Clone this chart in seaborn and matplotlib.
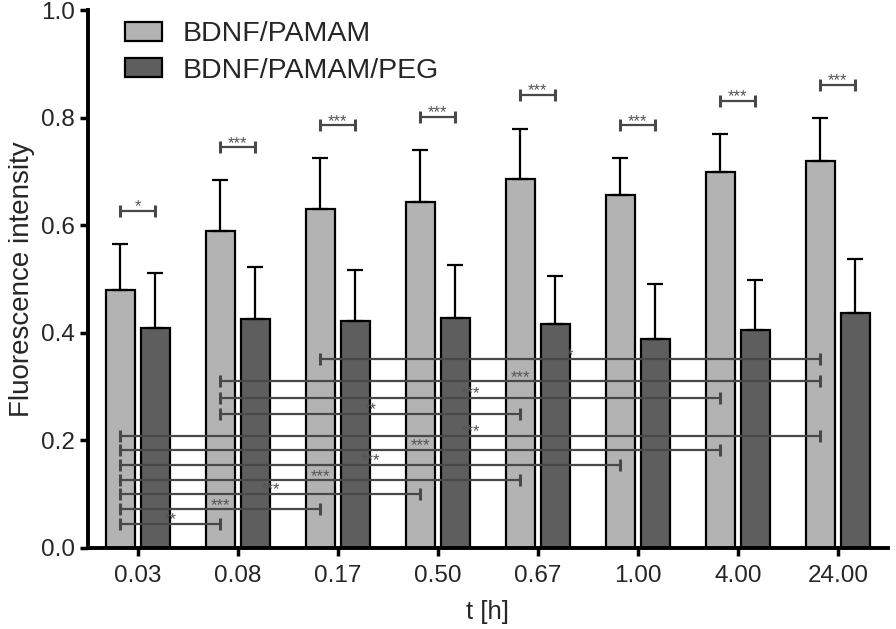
import numpy as np
import pandas as pd
import matplotlib
matplotlib.use("Agg")
import matplotlib.pyplot as plt
import seaborn as sns

# --------------------------------
# DATA
# --------------------------------
times = ["0.03", "0.08", "0.17", "0.50", "0.67", "1.00", "4.00", "24.00"]
groups = ["BDNF/PAMAM", "BDNF/PAMAM/PEG"]

pamam_mean = [0.480, 0.589, 0.630, 0.643, 0.686, 0.656, 0.699, 0.719]
pamam_sd = [0.085, 0.095, 0.095, 0.097, 0.093, 0.069, 0.071, 0.080]
peg_mean = [0.409, 0.426, 0.422, 0.428, 0.416, 0.388, 0.405, 0.437]
peg_sd = [0.102, 0.096, 0.095, 0.098, 0.090, 0.103, 0.093, 0.100]

# PAMAM vs PAMAM/PEG at each time point
pair_y = [0.627, 0.745, 0.786, 0.801, 0.842, 0.786, 0.831, 0.861]
pair_stars = ["*", "***", "***", "***", "***", "***", "***", "***"]

# BDNF/PAMAM between time points
cmp_start = [2, 1, 1, 1, 0, 0, 0, 0, 0, 0, 0]
cmp_end = [7, 7, 6, 4, 7, 6, 5, 4, 3, 2, 1]
cmp_y = [0.351, 0.310, 0.279, 0.249, 0.208, 0.182, 0.154, 0.126, 0.100, 0.072, 0.045]
cmp_stars = ["*", "***", "***", "**", "***", "***", "***", "***", "***", "***", "**"]

data = pd.DataFrame({
    "t": times * 2,
    "group": [groups[0]] * len(times) + [groups[1]] * len(times),
    "value": pamam_mean + peg_mean,
})

# --------------------------------
# PLOT
# --------------------------------
sns.set_style("ticks")
plt.rcParams["font.family"] = ["Liberation Sans", "DejaVu Sans"]

fig = plt.figure(figsize=(8.96, 6.29), dpi=100)
ax = fig.add_axes([0.098, 0.129, 0.893, 0.855])

sns.barplot(
    data=data, x="t", y="value", hue="group",
    order=times, hue_order=groups,
    palette=["#b3b3b3", "#5e5e5e"],
    width=0.7, gap=0.17,
    edgecolor="black", linewidth=1.6,
    errorbar=None, ax=ax,
)

light_x = [p.get_x() + p.get_width() / 2 for p in ax.containers[0]]
dark_x = [p.get_x() + p.get_width() / 2 for p in ax.containers[1]]

ax.errorbar(light_x, pamam_mean, yerr=[np.zeros(len(times)), pamam_sd],
            fmt="none", ecolor="black", elinewidth=1.6, capsize=5.5,
            capthick=1.6, zorder=1)
ax.errorbar(dark_x, peg_mean, yerr=[np.zeros(len(times)), peg_sd],
            fmt="none", ecolor="black", elinewidth=1.6, capsize=5.5,
            capthick=1.6, zorder=1)

bracket_color = "#484848"


def bracket(x1, x2, y, label):
    ax.plot([x1, x2], [y, y], color=bracket_color, lw=1.6, zorder=5)
    ax.plot([x1, x2], [y, y], ls="none", marker="|", ms=8.5, mew=2.2,
            color=bracket_color, zorder=5)
    ax.text((x1 + x2) / 2, y - 0.001, label, ha="center", va="baseline",
            fontsize=12, color="#555555", zorder=6)


for i in range(len(times)):
    bracket(light_x[i], dark_x[i], pair_y[i], pair_stars[i])

for s, e, y, lab in zip(cmp_start, cmp_end, cmp_y, cmp_stars):
    bracket(light_x[s], light_x[e], y, lab)

ax.set_xlim(-0.5, 7.5)
ax.set_ylim(0, 1.0)
ax.set_yticks([0.0, 0.2, 0.4, 0.6, 0.8, 1.0])
ax.set_yticklabels(["0.0", "0.2", "0.4", "0.6", "0.8", "1.0"])

ax.set_xlabel("t [h]", fontsize=18.5, labelpad=10)
ax.set_ylabel("Fluorescence intensity", fontsize=20, labelpad=4)
ax.tick_params(axis="both", labelsize=17.5, width=2.5, length=6,
               color="black", direction="out")
ax.tick_params(axis="x", pad=6)

sns.despine(ax=ax)
for side in ["left", "bottom"]:
    ax.spines[side].set_linewidth(2.8)
    ax.spines[side].set_color("black")

ax.legend(loc="upper left", bbox_to_anchor=(0.022, 1.016), frameon=False,
          fontsize=20.5, handlelength=1.3, handleheight=0.67,
          handletextpad=0.7, labelspacing=0.36, borderaxespad=0.3)

plt.savefig("out.png", dpi=100)
